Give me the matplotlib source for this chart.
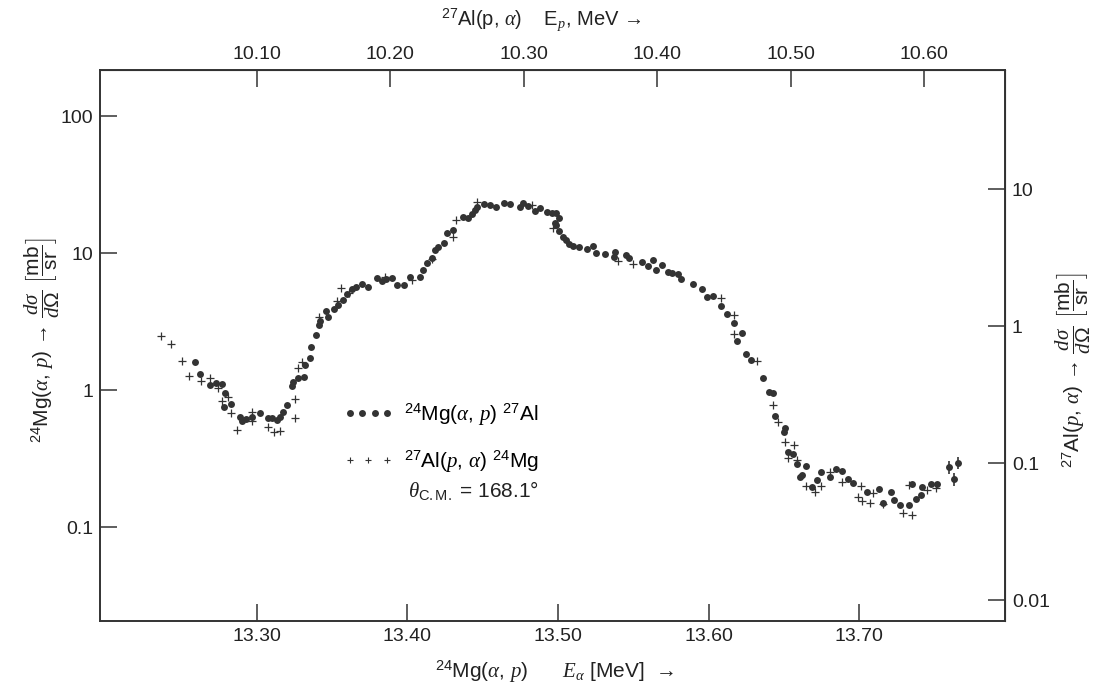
import numpy as np
import matplotlib.pyplot as plt
from matplotlib.legend_handler import HandlerLine2D
from matplotlib.ticker import FixedLocator, FixedFormatter, NullLocator

plt.rcParams['font.family'] = ['Liberation Sans', 'DejaVu Sans']
plt.rcParams['mathtext.fontset'] = 'custom'
plt.rcParams['mathtext.rm'] = 'Liberation Sans'
plt.rcParams['mathtext.it'] = 'Liberation Serif:italic'
plt.rcParams['mathtext.bf'] = 'Liberation Sans:bold'

# 24Mg(a,p)27Al, dots: alpha energy [MeV] and dsigma/dOmega [mb/sr]
e_ap = [13.259, 13.262, 13.269, 13.273, 13.277, 13.278, 13.279, 13.283, 13.289, 13.290,
        13.293, 13.297, 13.302, 13.307, 13.310, 13.313, 13.315, 13.317, 13.320, 13.323,
        13.324, 13.327, 13.331, 13.332, 13.335, 13.336, 13.339, 13.341, 13.342, 13.346,
        13.347, 13.351, 13.354, 13.357, 13.360, 13.363, 13.366, 13.370, 13.374, 13.380,
        13.383, 13.386, 13.390, 13.393, 13.398, 13.402, 13.408, 13.410, 13.413, 13.416,
        13.418, 13.420, 13.424, 13.426, 13.430, 13.437, 13.440, 13.443, 13.445, 13.446,
        13.451, 13.455, 13.459, 13.464, 13.468, 13.475, 13.477, 13.480, 13.485, 13.488,
        13.493, 13.496, 13.498, 13.499, 13.499, 13.501, 13.501, 13.503, 13.505, 13.507,
        13.510, 13.514, 13.519, 13.523, 13.525, 13.531, 13.537, 13.538, 13.545, 13.547,
        13.556, 13.560, 13.563, 13.565, 13.569, 13.573, 13.576, 13.580, 13.582, 13.590,
        13.596, 13.599, 13.603, 13.608, 13.612, 13.617, 13.619, 13.622, 13.625, 13.628,
        13.636, 13.640, 13.643, 13.644, 13.650, 13.651, 13.653, 13.656, 13.659, 13.661,
        13.662, 13.665, 13.669, 13.672, 13.675, 13.681, 13.685, 13.689, 13.693, 13.696,
        13.705, 13.713, 13.716, 13.721, 13.723, 13.727, 13.733, 13.735, 13.738, 13.741,
        13.742, 13.748, 13.752]
sig_ap = [1.60, 1.31, 1.09, 1.12, 1.11, 0.75, 0.95, 0.79, 0.64, 0.59,
          0.61, 0.64, 0.68, 0.62, 0.62, 0.60, 0.64, 0.69, 0.78, 1.07,
          1.14, 1.22, 1.24, 1.52, 1.71, 2.06, 2.52, 2.98, 3.19, 3.77,
          3.41, 3.90, 4.17, 4.54, 5.02, 5.46, 5.65, 5.94, 5.65, 6.57,
          6.25, 6.46, 6.57, 5.84, 5.84, 6.68, 6.68, 7.52, 8.45, 9.20,
          10.5, 11.1, 11.8, 14.0, 14.7, 18.3, 18.0, 19.3, 20.6, 21.7,
          22.8, 22.4, 21.7, 23.2, 22.8, 21.7, 23.2, 22.0, 20.3, 21.3,
          19.9, 19.6, 16.6, 19.6, 16.0, 18.0, 14.5, 13.1, 12.4, 11.6,
          11.2, 11.1, 10.7, 11.2, 10.0, 9.84, 9.35, 10.2, 9.67, 9.20,
          8.59, 8.04, 8.89, 7.52, 8.17, 7.27, 7.15, 7.03, 6.46, 5.94,
          5.46, 4.77, 4.86, 4.10, 3.59, 3.08, 2.28, 2.61, 1.83, 1.66,
          1.22, 0.97, 0.95, 0.65, 0.49, 0.53, 0.35, 0.34, 0.29, 0.23,
          0.24, 0.28, 0.196, 0.22, 0.25, 0.23, 0.265, 0.256, 0.224, 0.21,
          0.18, 0.189, 0.150, 0.18, 0.157, 0.145, 0.145, 0.206, 0.16, 0.171,
          0.196, 0.206, 0.206]

# last three (a,p) points carry error bars
e_ap_err = [13.760, 13.763, 13.766]
sig_ap_err = [0.274, 0.224, 0.293]
dsig_ap_err = [0.030, 0.025, 0.030]

# 27Al(p,a)24Mg, crosses, converted to the alpha scale
e_pa = [13.236, 13.243, 13.250, 13.255, 13.263, 13.269, 13.274, 13.277, 13.281, 13.283,
        13.287, 13.297, 13.297, 13.307, 13.311, 13.315, 13.325, 13.325, 13.327, 13.330,
        13.341, 13.353, 13.356, 13.361, 13.385, 13.403, 13.416, 13.430, 13.432, 13.446,
        13.483, 13.497, 13.540, 13.550, 13.608, 13.617, 13.617, 13.632, 13.643, 13.646,
        13.651, 13.653, 13.657, 13.659, 13.665, 13.671, 13.675, 13.681, 13.689, 13.699,
        13.701, 13.702, 13.707, 13.709, 13.716, 13.729, 13.733, 13.735, 13.745, 13.751]
sig_pa = [2.48, 2.17, 1.63, 1.27, 1.16, 1.22, 1.03, 0.83, 0.89, 0.68,
          0.51, 0.69, 0.59, 0.54, 0.49, 0.50, 0.86, 0.62, 1.45, 1.60,
          3.41, 4.46, 5.55, 5.10, 6.68, 6.35, 9.04, 13.1, 17.4, 23.6,
          22.4, 15.2, 8.74, 8.31, 4.69, 3.53, 2.56, 1.63, 0.78, 0.58,
          0.42, 0.32, 0.40, 0.31, 0.199, 0.180, 0.199, 0.252, 0.213, 0.166,
          0.199, 0.155, 0.150, 0.177, 0.147, 0.126, 0.203, 0.122, 0.186, 0.193]

ea_ticks = [13.30, 13.40, 13.50, 13.60, 13.70]
ep_ticks = [10.10, 10.20, 10.30, 10.40, 10.50, 10.60]
left_ticks = [0.1, 1, 10, 100]
left_labels = ['0.1', '1', '10', '100']
right_ticks = [0.01, 0.1, 1, 10]
right_labels = ['0.01', '0.1', '1', '10']

# axis relations
EA0, EP0, EP_SLOPE = 13.30, 10.10, 1.128
RATIO = 2.93

ink = '#333333'
txt = '#222222'
W, H = 1097, 693
fig = plt.figure(figsize=(W / 100, H / 100), dpi=100)
ax = fig.add_axes([100 / W, 1 - 621 / H, 905 / W, 551 / H])

ax.plot(e_pa, sig_pa, '+', color=ink, ms=5.5, mew=0.9, ls='none')
ax.plot(e_ap, sig_ap, 'o', color=ink, ms=5, mew=0, ls='none')
ax.errorbar(e_ap_err, sig_ap_err, yerr=dsig_ap_err, fmt='o', color=ink,
            ms=5, mew=0, elinewidth=1.2, capsize=2.5, capthick=1.2)

ax.set_yscale('log')
ax.set_xlim(13.1957, 13.797)
ax.set_ylim(0.0206, 216.7)

tick_kw = dict(direction='in', length=12, width=1.1, labelsize=14,
               colors=ink, labelcolor=txt, pad=5)
ax.xaxis.set_major_locator(FixedLocator(ea_ticks))
ax.xaxis.set_major_formatter(FixedFormatter(['%.2f' % t for t in ea_ticks]))
ax.yaxis.set_major_locator(FixedLocator(left_ticks))
ax.yaxis.set_major_formatter(FixedFormatter(left_labels))
ax.yaxis.set_minor_locator(NullLocator())
ax.tick_params(**tick_kw)
for s in ax.spines.values():
    s.set_linewidth(1.4)
    s.set_color(ink)

top = ax.secondary_xaxis('top', functions=(lambda e: EP0 + (e - EA0) * EP_SLOPE,
                                           lambda p: EA0 + (p - EP0) / EP_SLOPE))
top.xaxis.set_major_locator(FixedLocator(ep_ticks))
top.xaxis.set_major_formatter(FixedFormatter(['%.2f' % t for t in ep_ticks]))
top.tick_params(**tick_kw)

right = ax.secondary_yaxis('right', functions=(lambda s: s / RATIO, lambda s: s * RATIO))
right.yaxis.set_major_locator(FixedLocator(right_ticks))
right.yaxis.set_major_formatter(FixedFormatter(right_labels))
right.yaxis.set_minor_locator(NullLocator())
right.tick_params(**tick_kw)

# legend
h1, = ax.plot([], [], 'o', color=ink, ms=5, mew=0, ls='none')
h2, = ax.plot([], [], '+', color=ink, ms=4.5, mew=0.8, ls='none')
ax.legend([h1, h2],
          [r'$^{24}$Mg($\alpha$, $p$) $^{27}$Al', r'$^{27}$Al($p$, $\alpha$) $^{24}$Mg'],
          handler_map={h1: HandlerLine2D(numpoints=4), h2: HandlerLine2D(numpoints=3)},
          loc='upper left', bbox_to_anchor=(333 / W, 1 - 391 / H),
          bbox_transform=fig.transFigure, frameon=False, fontsize=15,
          handlelength=2.4, handletextpad=0.5, labelspacing=1.0, borderpad=0)
fig.text(408 / W, 1 - 491 / H, r'$\theta_{\rm C.M.}$ = 168.1°', fontsize=15,
         color=txt, va='center', ha='left')

# axis titles
fig.text(555 / W, 1 - 672 / H, r'$^{24}$Mg($\alpha$, $p$)      $E_{\alpha}$ [MeV]  →',
         fontsize=15, color=txt, ha='center', va='center')
fig.text(541 / W, 1 - 20 / H, r'$^{27}$Al(p, $\alpha$)    E$_{p}$, MeV →',
         fontsize=14.5, color=txt, ha='center', va='center')
fig.text(42 / W, 1 - 340 / H,
         r'$^{24}$Mg($\alpha$, $p$) → $\dfrac{d\sigma}{d\Omega}$ $\left[\dfrac{\rm mb}{\rm sr}\right]$',
         fontsize=15, color=txt, ha='center', va='center', rotation=90)
fig.text(1073 / W, 1 - 370 / H,
         r'$^{27}$Al($p$, $\alpha$) → $\dfrac{d\sigma}{d\Omega}$ $\left[\dfrac{\rm mb}{\rm sr}\right]$',
         fontsize=15, color=txt, ha='center', va='center', rotation=90)

fig.savefig('out.png', dpi=100)
